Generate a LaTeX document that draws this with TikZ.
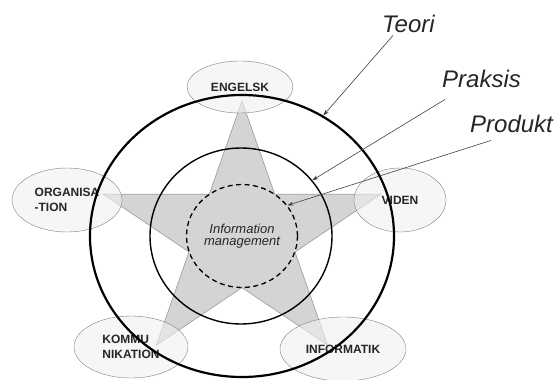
\documentclass[tikz,border=0pt]{standalone}
\usepackage{fontspec}
\setmainfont{Liberation Sans}
\usetikzlibrary{shapes.geometric,arrows.meta}

\begin{document}
\begin{tikzpicture}[x=1pt, y=-1pt, every node/.append style={text=black!85}]
    \tikzstyle{subject}=[ellipse, draw=black!50, fill=black!6, fill opacity=0.6, text opacity=1, inner sep=0pt, align=left, font=\fontsize{12}{15}\selectfont\bfseries]
    \tikzstyle{ring}=[ellipse, draw=black, inner sep=0pt]
    \tikzstyle{levellabel}=[inner sep=0pt, anchor=base west, font=\fontsize{24}{26}\selectfont\itshape]
    \tikzstyle{pointer}=[-{Stealth[length=6pt,width=4pt]}, draw=black!75, line width=0.6pt]
    \tikzstyle{pentagram}=[fill=black!17, draw=black!40, line width=0.6pt]

    \useasboundingbox (0,0) rectangle (554,380);

    % Draw the star behind everything
    \begin{scope}[shift={(242,236)}, xscale=1.08, yscale=-1]
        \filldraw[pentagram] (90:135) \foreach \k in {0,...,4} {-- (126+72*\k:51.6) -- (162+72*\k:135)} -- cycle;
    \end{scope}

    % Draw the five subjects
    \node[subject, minimum width=106, minimum height=52] (engelsk) at (240,87) {ENGELSK};
    \node[subject, minimum width=110, minimum height=64] (organisation) at (67,200) {ORGANISA\\-TION};
    \node[subject, minimum width=92, minimum height=64] (viden) at (400,200) {VIDEN};
    \node[subject, minimum width=114, minimum height=62] (kommunikation) at (131,347) {KOMMU\\NIKATION};
    \node[subject, minimum width=126, minimum height=64] (informatik) at (343,349) {INFORMATIK};

    % Draw the three rings
    \node[ring, line width=2.2pt, minimum width=304, minimum height=282] (theory) at (242,236) {};
    \node[ring, line width=1.4pt, minimum width=182, minimum height=176] (practice) at (241,236) {};
    \node[ring, dashed, dash pattern=on 5pt off 3.5pt, line width=1.3pt, minimum width=111, minimum height=103, align=center, font=\fontsize{13}{12.5}\selectfont\itshape] (product) at (242,236) {Information\\management};

    % Annotate the rings
    \node[levellabel] (teori) at (382,32) {Teori};
    \node[levellabel] (praksis) at (442,87) {Praksis};
    \node[levellabel] (produkt) at (470,132) {Produkt};

    \draw[pointer] ([xshift=11pt, yshift=-3pt]teori.south west) -- (theory.56);
    \draw[pointer] ([xshift=3pt, yshift=-12pt]praksis.south west) -- (practice.38);
    \draw[pointer] ([xshift=21pt, yshift=-8pt]produkt.south west) -- (product.34);
\end{tikzpicture}
\end{document}
